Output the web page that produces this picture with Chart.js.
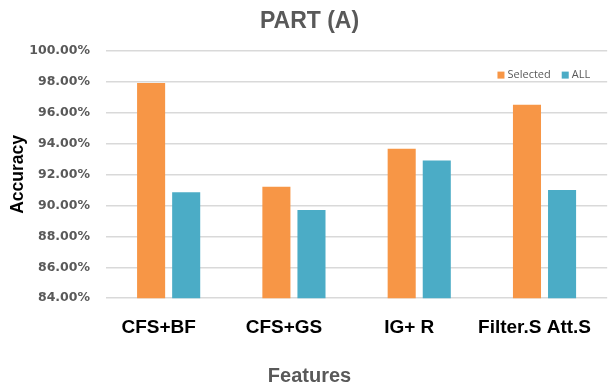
<!DOCTYPE html>
<html>
<head>
<meta charset="utf-8">
<script src="https://cdn.jsdelivr.net/npm/chart.js@4.4.0/dist/chart.umd.min.js"></script>
<style>
  html, body { margin: 0; padding: 0; background: #fff; }
  #wrap { width: 616px; height: 388px; overflow: hidden; }
  #box { width: 619px; height: 388px; }
</style>
</head>
<body>
<div id="wrap"><div id="box"><canvas id="chart"></canvas></div></div>
<script>
// Feature selection methods and accuracy (%)
const categories = ['CFS+BF', 'CFS+GS', 'IG+ R', 'Filter.S Att.S'];
const selectedValues = [97.9, 91.2, 93.65, 96.5];
const allValues = [90.85, 89.7, 92.9, 91.0];
const yTicks = [84, 86, 88, 90, 92, 94, 96, 98, 100];

const ORANGE = '#F79646';
const BLUE = '#4BACC6';

// Small legend drawn inside the plot, top right (like the Excel original)
const insideLegend = {
    id: 'insideLegend',
    afterDraw(chart) {
        const c = chart.ctx;
        const area = chart.chartArea;
        c.save();
        c.font = '11px "Open Sans"';
        c.textBaseline = 'middle';
        const y = area.top + 24;
        let x = area.right - 17;
        const items = chart.data.datasets.slice().reverse();
        items.forEach(ds => {
            const w = c.measureText(ds.label).width;
            x -= w;
            c.fillStyle = '#595959';
            c.fillText(ds.label, x, y);
            x -= 10;
            c.fillStyle = ds.backgroundColor;
            c.fillRect(x, y - 3, 7, 7);
            x -= 11;
        });
        c.restore();
    }
};

const ctx = document.getElementById('chart');

new Chart(ctx, {
    type: 'bar',
    data: {
        labels: categories,
        datasets: [{
            label: 'Selected',
            data: selectedValues,
            backgroundColor: ORANGE,
            barPercentage: 0.8,
            categoryPercentage: 0.56
        }, {
            label: 'ALL',
            data: allValues,
            backgroundColor: BLUE,
            barPercentage: 0.8,
            categoryPercentage: 0.56
        }]
    },
    options: {
        responsive: true,
        maintainAspectRatio: false,
        animation: false,
        layout: { padding: 0 },
        scales: {
            x: {
                grid: { display: false, drawTicks: false },
                border: { display: false },
                ticks: {
                    color: '#000',
                    padding: 18,
                    labelOffset: -10,
                    font: { family: 'Liberation Sans', size: 19, weight: 'bold' }
                }
            },
            y: {
                min: 84,
                max: 100,
                afterBuildTicks: function(axis) {
                    axis.ticks = yTicks.map(v => ({ value: v }));
                },
                afterFit: function(axis) {
                    axis.width = 106;
                },
                grid: { color: '#D9D9D9', lineWidth: 1.5, drawTicks: false },
                border: { display: false },
                ticks: {
                    color: '#595959',
                    padding: 16,
                    font: { family: 'DejaVu Sans', size: 12.5, weight: 'bold' },
                    callback: v => v.toFixed(2) + '%'
                },
                title: {
                    display: true,
                    text: 'Accuracy',
                    color: '#000',
                    padding: { top: 8, bottom: 0 },
                    font: { family: 'Liberation Sans', size: 17.5, weight: 'bold' }
                }
            }
        },
        plugins: {
            title: {
                display: true,
                text: 'PART (A)',
                color: '#595959',
                padding: { top: 8, bottom: 15 },
                font: { family: 'Liberation Sans', size: 23, weight: 'bold' }
            },
            subtitle: {
                display: true,
                position: 'bottom',
                text: 'Features',
                color: '#595959',
                padding: { top: 7, bottom: 0 },
                font: { family: 'Liberation Sans', size: 20, weight: 'bold' }
            },
            legend: { display: false },
            tooltip: { enabled: false }
        }
    },
    plugins: [insideLegend]
});
</script>
</body>
</html>
